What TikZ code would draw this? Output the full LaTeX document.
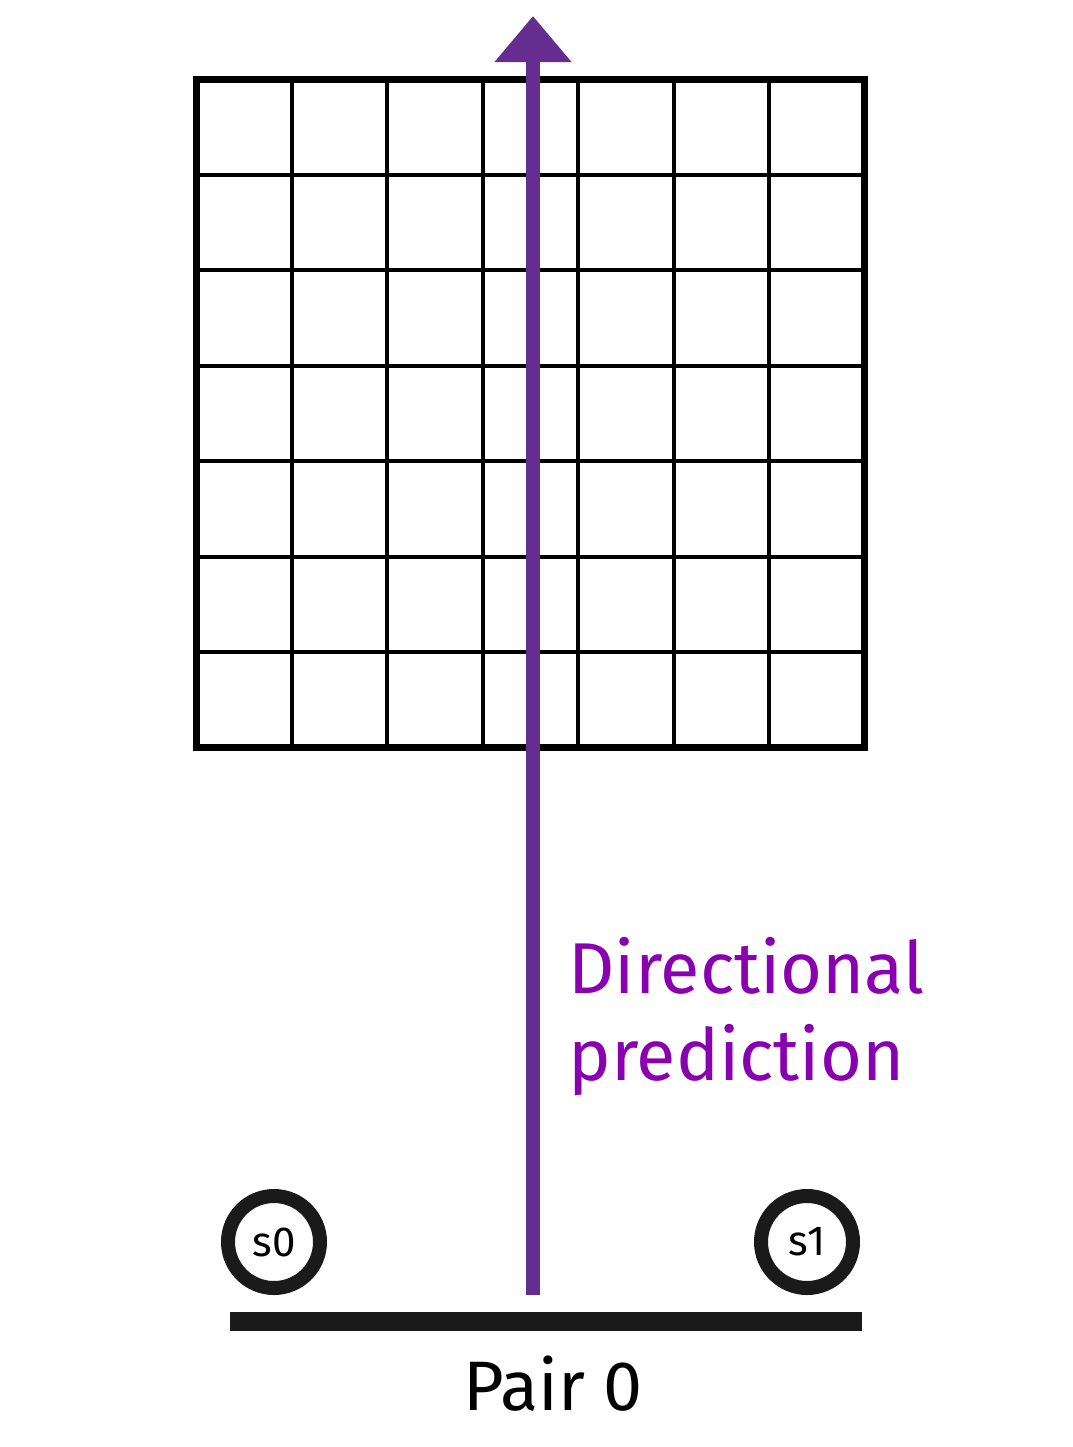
\documentclass[tikz,border=0pt]{standalone}
\usepackage{fontspec}
\setmainfont{Fira Sans}
\usetikzlibrary{arrows.meta,positioning}
\definecolor{arrowpurple}{RGB}{102,45,145}
\definecolor{textpurple}{RGB}{136,0,176}
\definecolor{ringgrey}{RGB}{26,26,26}
\tikzset{
	sensor/.style={circle, draw=ringgrey, line width=7pt, minimum size=46pt, inner sep=0pt, font=\fontsize{21}{21}\selectfont},
	predtext/.style={anchor=base west, inner sep=0pt, text=textpurple, font=\fontsize{36}{36}\selectfont},
}
\begin{document}
\begin{tikzpicture}[x=0.5pt, y=-0.5pt, line join=miter]
	\useasboundingbox (0,0) rectangle (1072,1447);
	\def \gxmin{196.5};
	\def \gymin{79.5};
	\def \gcell{95.43};
	% grid
	\foreach \i in {1,...,6} {
		\draw[line width=2pt] ({\gxmin+\i*\gcell},\gymin) -- ({\gxmin+\i*\gcell},{\gymin+7*\gcell});
		\draw[line width=2pt] (\gxmin,{\gymin+\i*\gcell}) -- ({\gxmin+7*\gcell},{\gymin+\i*\gcell});
	}
	\draw[line width=3.5pt] (\gxmin,\gymin) rectangle ({\gxmin+7*\gcell},{\gymin+7*\gcell});
	% prediction arrow
	\coordinate (arrowstart) at (533,1295);
	\coordinate (arrowend) at (533,16);
	\draw[arrowpurple, line width=7pt, -{Triangle[width=37pt,length=23pt]}] (arrowstart) -- (arrowend);
	\node[predtext] (dirlabel) at (568,993) {Directional};
	\node[predtext, anchor=base west] (predlabel) at ([yshift=-43.5pt]dirlabel.base west) {prediction};
	% sensors and pair
	\node[sensor] (s0) at (274,1242) {s0};
	\node[sensor] (s1) at (807,1242) {s1};
	\coordinate (pairleft) at (230,1321.5);
	\coordinate (pairright) at (862,1321.5);
	\draw[ringgrey, line width=9.5pt] (pairleft) -- (pairright);
	\node[anchor=base, inner sep=0pt, font=\fontsize{35}{35}\selectfont] (pairlabel) at (553,1410) {Pair 0};
\end{tikzpicture}
\end{document}
